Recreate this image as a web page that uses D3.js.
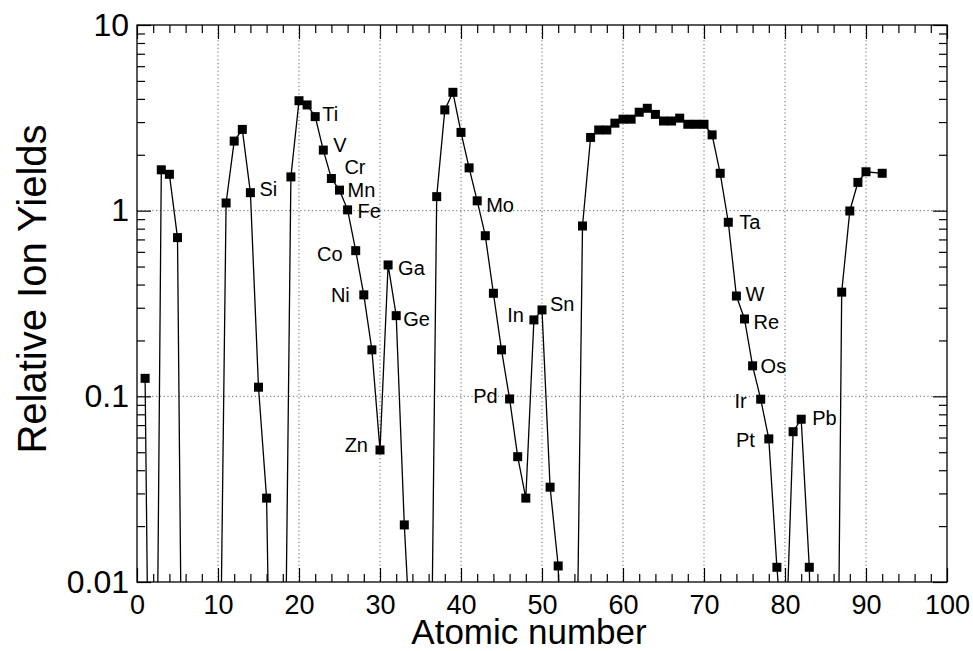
<!DOCTYPE html>
<html>
<head>
<meta charset="utf-8">
<script src="https://cdn.jsdelivr.net/npm/d3@7"></script>
<style>
    body { margin: 0; background: #fff; }
    text { font-family: "Liberation Sans", Arial, Helvetica, sans-serif; fill: #000; }
</style>
</head>
<body>
<div id="chart"></div>
<script>
// Relative ion yields vs atomic number (log scale)

// atomic numbers (Pa, 91, is not measured)
const atomicNumbers = [
    1, 2, 3, 4, 5, 6, 7, 8, 9, 10,
    11, 12, 13, 14, 15, 16, 17, 18, 19, 20,
    21, 22, 23, 24, 25, 26, 27, 28, 29, 30,
    31, 32, 33, 34, 35, 36, 37, 38, 39, 40,
    41, 42, 43, 44, 45, 46, 47, 48, 49, 50,
    51, 52, 53, 54, 55, 56, 57, 58, 59, 60,
    61, 62, 63, 64, 65, 66, 67, 68, 69, 70,
    71, 72, 73, 74, 75, 76, 77, 78, 79, 80,
    81, 82, 83, 84, 85, 86, 87, 88, 89, 90,
    92
];

// yields, same order (values below 0.01 fall off the bottom of the plot)
const ionYields = [
    0.125, 1e-5, 1.66, 1.57, 0.716, 1.5e-5, 1e-5, 1e-5, 1e-5, 3e-4,
    1.10, 2.37, 2.74, 1.25, 0.112, 0.0283, 6e-5, 2e-4, 1.52, 3.91,
    3.71, 3.21, 2.12, 1.49, 1.29, 1.01, 0.609, 0.352, 0.178, 0.0514,
    0.51, 0.272, 0.0203, 3e-3, 1e-4, 1.5e-4, 1.19, 3.49, 4.34, 2.64,
    1.70, 1.13, 0.733, 0.359, 0.178, 0.0968, 0.0473, 0.0283, 0.258, 0.292,
    0.0324, 0.0122, 1e-4, 3e-4, 0.827, 2.48, 2.72, 2.72, 2.96, 3.11,
    3.11, 3.39, 3.56, 3.30, 3.04, 3.04, 3.15, 2.92, 2.92, 2.92,
    2.56, 1.59, 0.866, 0.347, 0.261, 0.146, 0.0965, 0.059, 0.0120, 3.3e-3,
    0.0645, 0.0753, 0.0120, 1e-4, 1e-5, 7e-6, 0.364, 0.996, 1.42, 1.62,
    1.59
];

// element labels
const labelZ = [14, 22, 23, 24, 25, 26, 27, 28, 30, 31, 32, 42, 46, 49, 50, 73, 74, 75, 76, 77, 78, 82];
const labelText = ["Si", "Ti", "V", "Cr", "Mn", "Fe", "Co", "Ni", "Zn", "Ga", "Ge", "Mo", "Pd", "In", "Sn", "Ta", "W", "Re", "Os", "Ir", "Pt", "Pb"];

// axis ticks
const xMajorTicks = [0, 10, 20, 30, 40, 50, 60, 70, 80, 90, 100];
const xMinorTicks = d3.range(0, 101, 2).filter(d => d % 10 !== 0);
const yMajorTicks = [0.01, 0.1, 1, 10];
const yTickLabels = ["0.01", "0.1", "1", "10"];
const yMinorTicks = [0.01, 0.1, 1].flatMap(d => d3.range(2, 10).map(k => k * d));

function displayChart() {
    const width = 973, height = 651;
    var plot = {left: 137, right: 947, top: 25, bottom: 582};

    var data = atomicNumbers.map((z, i) => ({z: z, v: ionYields[i]}));

    var svg = d3.select("#chart").append("svg")
        .attr("width", width)
        .attr("height", height);

    var xScale = d3.scaleLinear().domain([0, 100]).range([plot.left, plot.right]);
    var yScale = d3.scaleLog().domain([0.01, 10]).range([plot.bottom, plot.top]);

    svg.append("clipPath").attr("id", "plotClip")
        .append("rect")
        .attr("x", plot.left).attr("y", plot.top)
        .attr("width", plot.right - plot.left)
        .attr("height", plot.bottom - plot.top);

    // dotted grid
    var grid = svg.append("g").attr("stroke", "#666").attr("stroke-width", 1)
        .attr("stroke-dasharray", "1.2,2.6");
    grid.selectAll(".vg").data(xMajorTicks.slice(1, -1)).enter().append("line")
        .attr("x1", d => xScale(d)).attr("x2", d => xScale(d))
        .attr("y1", plot.top).attr("y2", plot.bottom);
    grid.selectAll(".hg").data([0.1, 1]).enter().append("line")
        .attr("x1", plot.left).attr("x2", plot.right)
        .attr("y1", d => yScale(d)).attr("y2", d => yScale(d));

    // ticks on all four sides, pointing inwards
    function addAxis(axis, transform, labelled) {
        var g = svg.append("g").attr("transform", transform).call(axis);
        g.select(".domain").remove();
        g.selectAll("line").attr("stroke", "#000").attr("stroke-width", 1.2);
        if (!labelled) g.selectAll("text").remove();
        return g;
    }
    var bottomAxis = addAxis(d3.axisBottom(xScale).tickValues(xMajorTicks).tickSize(-14).tickPadding(13),
        "translate(0," + plot.bottom + ")", true);
    bottomAxis.selectAll("text").style("font-size", "27px");
    addAxis(d3.axisBottom(xScale).tickValues(xMinorTicks).tickSize(-8), "translate(0," + plot.bottom + ")", false);
    addAxis(d3.axisTop(xScale).tickValues(xMajorTicks).tickSize(-14), "translate(0," + plot.top + ")", false);
    addAxis(d3.axisTop(xScale).tickValues(xMinorTicks).tickSize(-8), "translate(0," + plot.top + ")", false);

    var leftAxis = addAxis(d3.axisLeft(yScale).tickValues(yMajorTicks).tickSize(-14).tickPadding(8)
            .tickFormat((d, i) => yTickLabels[i]),
        "translate(" + plot.left + ",0)", true);
    leftAxis.selectAll("text").style("font-size", "32px");
    addAxis(d3.axisLeft(yScale).tickValues(yMinorTicks).tickSize(-8), "translate(" + plot.left + ",0)", false);
    addAxis(d3.axisRight(yScale).tickValues(yMajorTicks).tickSize(-14), "translate(" + plot.right + ",0)", false);
    addAxis(d3.axisRight(yScale).tickValues(yMinorTicks).tickSize(-8), "translate(" + plot.right + ",0)", false);

    // frame
    svg.append("rect")
        .attr("x", plot.left).attr("y", plot.top)
        .attr("width", plot.right - plot.left)
        .attr("height", plot.bottom - plot.top)
        .attr("fill", "none").attr("stroke", "#000").attr("stroke-width", 1.3);

    // connecting line (clipped at the plot box)
    var line = d3.line().x(d => xScale(d.z)).y(d => yScale(d.v));
    svg.append("path")
        .datum(data)
        .attr("clip-path", "url(#plotClip)")
        .attr("fill", "none")
        .attr("stroke", "#000")
        .attr("stroke-width", 1.3)
        .attr("d", line);

    // square markers for the points inside the plot
    const s = 9;
    svg.selectAll(".pt")
        .data(data.filter(d => d.v >= 0.01))
        .enter().append("rect")
            .attr("class", "pt")
            .attr("x", d => xScale(d.z) - s / 2)
            .attr("y", d => yScale(d.v) - s / 2)
            .attr("width", s).attr("height", s)
            .attr("fill", "#000");

    // label offsets from the marker (dx, dy of text centre-left / centre-right)
    var offsets = {
        Si: [9, -4], Ti: [7, -3], V: [10, -5], Cr: [13, -12], Mn: [8, 0], Fe: [10, 1],
        Co: [-13, 3], Ni: [-14, 0], Zn: [-12, -5], Ga: [10, 3], Ge: [7, 3], Mo: [9, 4],
        Pd: [-12, -3], In: [-10, -5], Sn: [8, -6], Ta: [11, 0], W: [9, -2], Re: [9, 3],
        Os: [8, 0], Ir: [-14, 2], Pt: [-14, 1], Pb: [11, -1]
    };
    svg.selectAll(".lbl")
        .data(labelZ.map((z, i) => ({z: z, name: labelText[i], v: ionYields[atomicNumbers.indexOf(z)]})))
        .enter().append("text")
            .attr("class", "lbl")
            .attr("x", d => xScale(d.z) + offsets[d.name][0])
            .attr("y", d => yScale(d.v) + offsets[d.name][1] + 7)
            .style("text-anchor", d => offsets[d.name][0] < 0 ? "end" : "start")
            .style("font-size", "20px")
            .text(d => d.name);

    // axis titles
    svg.append("text")
        .attr("x", 529)
        .attr("y", 644)
        .style("text-anchor", "middle")
        .style("font-size", "35px")
        .text("Atomic number");

    svg.append("text")
        .attr("transform", "translate(46,289) rotate(-90)")
        .style("text-anchor", "middle")
        .style("font-size", "40px")
        .text("Relative Ion Yields");
}

displayChart();
</script>
</body>
</html>
